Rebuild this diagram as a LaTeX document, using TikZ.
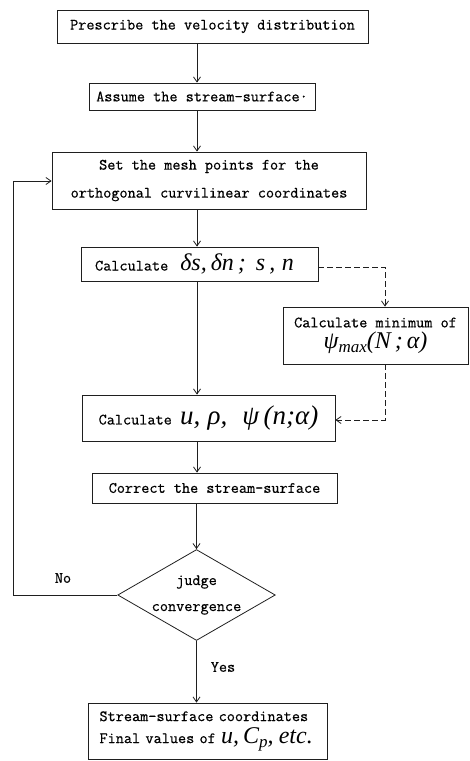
\documentclass[tikz,border=0pt]{standalone}
\usepackage{fontspec}
\usetikzlibrary{arrows.meta,shapes.geometric}
\newfontfamily\tw{Latin Modern Mono}[FakeBold=0.6]
\newfontfamily\hwfont{Liberation Serif}
\newcommand\hw[1]{{\hwfont\itshape\fontsize{24}{24}\selectfont #1}}
\newcommand\hwb[1]{{\hwfont\itshape\fontsize{27}{27}\selectfont #1}}
\newcommand\sbs[1]{\raisebox{-4pt}{\fontsize{17}{17}\selectfont #1}}
\begin{document}
\begin{tikzpicture}[x=1pt,y=-1pt,
  ink/.style={draw=black!88, line width=0.8pt},
  box/.style={ink, inner sep=0pt, align=center, font=\tw\fontsize{15.8}{28}\selectfont},
  arr/.style={ink, -{Straight Barb[length=5pt,width=7pt]}},
  dsh/.style={arr, dash pattern=on 6pt off 3pt},
  lbl/.style={font=\tw\fontsize{15.8}{18}\selectfont, inner sep=0pt}]
\useasboundingbox (0,0) rectangle (470,761);
\coordinate (spine) at (197,0);
\node[box, minimum width=311pt, minimum height=33pt] (b1) at (212.5,26.5) {Prescribe the velocity distribution};
\node[box, minimum width=226pt, minimum height=27pt] (b2) at (202,96.5) {Assume the stream-surface·};
\node[box, minimum width=314pt, minimum height=57pt] (b3) at (209,180.5) {Set the mesh points for the\\orthogonal curvilinear coordinates};
\node[box, minimum width=237pt, minimum height=34pt] (b4) at (199.5,264) {Calculate\hspace{12pt}\hw{δs,\,δn\,;\, s\,,\;n}\hspace{10pt}};
\node[box, minimum width=185pt, minimum height=57pt, font=\tw\fontsize{15.8}{21}\selectfont] (b5) at (375.5,335.5) {Calculate minimum of\\\hw{ψ\sbs{max}(N\,;\,α)}};
\node[box, minimum width=253pt, minimum height=46pt] (b6) at (208.5,418) {Calculate \hwb{u,\;ρ,\;\;ψ\,(n;α)}};
\node[box, minimum width=245pt, minimum height=30pt] (b7) at (214.5,488) {Correct the stream-surface};
\node[ink, diamond, aspect=1.733, minimum width=156pt, minimum height=90pt, inner sep=0pt, align=center, font=\tw\fontsize{15.8}{26}\selectfont] (d) at (196.5,595) {judge\\convergence};
\node[box, minimum width=239pt, minimum height=56pt, text width=216pt, align=left, font=\tw\fontsize{15.8}{22}\selectfont] (b8) at (207.5,731) {Stream-surface coordinates\\Final values of \hw{u,\,C\sbs{p}, etc.}};
\node[lbl] (no) at (63,578) {No};
\node[lbl] (yes) at (223,667) {Yes};
\draw[arr] (b1.south -| spine) -- (b2.north -| spine);
\draw[arr] (b2.south -| spine) -- (b3.north -| spine);
\draw[arr] (b3.south -| spine) -- (b4.north -| spine);
\draw[arr] (b4.south -| spine) -- (b6.north -| spine);
\draw[arr] (b6.south -| spine) -- (b7.north -| spine);
\draw[arr] (b7.south -| d.north) -- (d.north);
\draw[arr] (d.south) -- (b8.north -| d.south);
\coordinate (c1) at (385,267);
\coordinate (c2) at (385,420);
\draw[dsh] (b4.east |- c1) -- (c1) -- (b5.north -| c1);
\draw[dsh] (b5.south -| c2) -- (c2) -- (b6.east |- c2);
\coordinate (l1) at (13,181);
\draw[arr] (d.west) -- (d.west -| l1) -- (l1) -- (b3.west |- l1);
\end{tikzpicture}
\end{document}
